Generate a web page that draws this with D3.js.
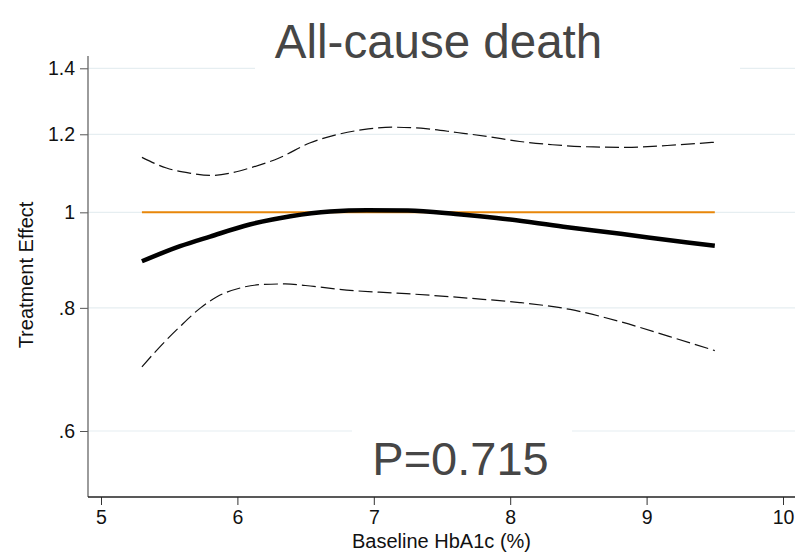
<!DOCTYPE html>
<html><head><meta charset="utf-8">
<script src="https://cdn.jsdelivr.net/npm/d3@7"></script>
<style>body{margin:0;background:#fff}svg{display:block}text{font-family:"Liberation Sans",Arial,Helvetica,sans-serif}</style>
</head><body>
<script>
const titleText = "All-cause death";
const pText = "P=0.715";
const xLabel = "Baseline HbA1c (%)";
const yLabel = "Treatment Effect";
const xTicks = [5, 6, 7, 8, 9, 10];
const yTicks = [0.6, 0.8, 1, 1.2, 1.4];
const yTickLabels = [".6", ".8", "1", "1.2", "1.4"];

const estX = [5.30, 5.58, 5.80, 6.09, 6.39, 6.68, 6.95, 7.25, 7.60, 7.90, 8.39, 8.81, 9.30, 9.50];
const estY = [0.892, 0.924, 0.945, 0.972, 0.991, 1.002, 1.005, 1.004, 0.996, 0.987, 0.967, 0.951, 0.932, 0.925];

const upX = [5.30, 5.48, 5.65, 5.80, 5.95, 6.09, 6.31, 6.53, 6.73, 6.92, 7.14, 7.38, 7.61, 7.83, 8.07, 8.31, 8.61, 8.85, 9.15, 9.50];
const upY = [1.137, 1.109, 1.096, 1.090, 1.096, 1.109, 1.136, 1.176, 1.199, 1.213, 1.220, 1.216, 1.205, 1.194, 1.180, 1.171, 1.165, 1.164, 1.169, 1.178];

const loX = [5.30, 5.43, 5.58, 5.73, 5.85, 6.02, 6.19, 6.35, 6.56, 6.80, 7.17, 7.41, 7.71, 8.07, 8.44, 8.80, 9.17, 9.50];
const loY = [0.697, 0.730, 0.766, 0.800, 0.821, 0.838, 0.845, 0.846, 0.841, 0.834, 0.828, 0.824, 0.818, 0.810, 0.797, 0.775, 0.748, 0.724];

const refX = [5.3, 9.5];
const refY = [1, 1];

const W = 795, H = 555;
const plotL = 88, plotR = 795, plotT = 56, plotB = 497;
const svg = d3.select("body").append("svg").attr("width", W).attr("height", H);

const x = d3.scaleLinear().domain([5, 10]).range([101, 783]);
const y = d3.scaleLog().domain([0.6, 1.4]).range([431, 68.3]);

// gridlines
svg.append("g").selectAll("line").data(yTicks).join("line")
  .attr("x1", plotL).attr("x2", plotR)
  .attr("y1", d => y(d)).attr("y2", d => y(d))
  .attr("stroke", "#e6eef1").attr("stroke-width", 1.2);

// white boxes behind title and p text
svg.append("rect").attr("x", 255).attr("y", 10).attr("width", 485).attr("height", 66).attr("fill", "#fff");
svg.append("rect").attr("x", 352).attr("y", 424).attr("width", 220).attr("height", 66).attr("fill", "#fff");

const line = d3.line().x(d => x(d[0])).y(d => y(d[1])).curve(d3.curveMonotoneX);

svg.append("path").datum(refX.map((v, i) => [v, refY[i]])).attr("d", line)
  .attr("fill", "none").attr("stroke", "#e8870a").attr("stroke-width", 2);

svg.append("path").datum(upX.map((v, i) => [v, upY[i]])).attr("d", line)
  .attr("fill", "none").attr("stroke", "#111").attr("stroke-width", 1.2).attr("stroke-dasharray", "14,5");
svg.append("path").datum(loX.map((v, i) => [v, loY[i]])).attr("d", line)
  .attr("fill", "none").attr("stroke", "#111").attr("stroke-width", 1.2).attr("stroke-dasharray", "14,5");
svg.append("path").datum(estX.map((v, i) => [v, estY[i]])).attr("d", line)
  .attr("fill", "none").attr("stroke", "#000").attr("stroke-width", 4.5);

// axes
const yAxis = d3.axisLeft(y).tickValues(yTicks).tickFormat((d, i) => yTickLabels[i]).tickSize(8).tickPadding(5);
const gy = svg.append("g").attr("transform", `translate(${plotL},0)`).call(yAxis);
gy.select(".domain").remove();
gy.selectAll("line").attr("stroke", "#555");
gy.selectAll("text").attr("font-size", 19.5).attr("fill", "#111").attr("font-family", '"Liberation Sans",Arial,sans-serif');
svg.append("line").attr("x1", plotL).attr("x2", plotL).attr("y1", plotT).attr("y2", plotB).attr("stroke", "#666").attr("stroke-width", 1.3);

const xAxis = d3.axisBottom(x).tickValues(xTicks).tickFormat(d3.format("d")).tickSize(8).tickPadding(5);
const gx = svg.append("g").attr("transform", `translate(0,${plotB})`).call(xAxis);
gx.select(".domain").remove();
gx.selectAll("line").attr("stroke", "#333");
gx.selectAll("text").attr("font-size", 19.5).attr("fill", "#111").attr("font-family", '"Liberation Sans",Arial,sans-serif');
svg.append("line").attr("x1", plotL).attr("x2", plotR).attr("y1", plotB).attr("y2", plotB).attr("stroke", "#222").attr("stroke-width", 1.3);

// titles
svg.append("text").attr("x", 438.5).attr("y", 58).attr("text-anchor", "middle")
  .attr("font-size", 47.5).attr("fill", "#464646").text(titleText);
svg.append("text").attr("x", 460.5).attr("y", 475).attr("text-anchor", "middle")
  .attr("font-size", 47).attr("fill", "#464646").text(pText);
svg.append("text").attr("x", 441.5).attr("y", 548).attr("text-anchor", "middle")
  .attr("font-size", 20).attr("fill", "#111").text(xLabel);
svg.append("text").attr("transform", "translate(33,275) rotate(-90)").attr("text-anchor", "middle")
  .attr("font-size", 20).attr("fill", "#111").text(yLabel);
</script>
</body></html>
